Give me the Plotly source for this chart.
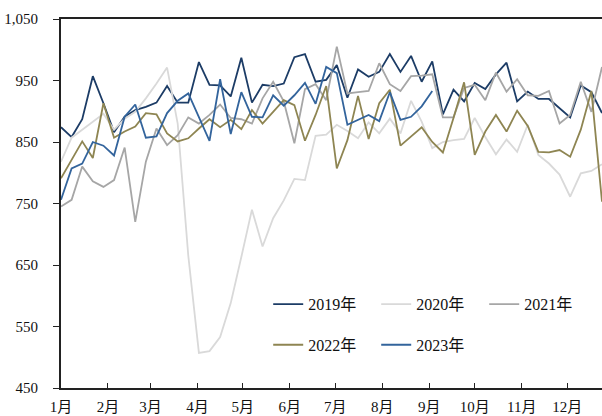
import pandas as pd
import plotly.graph_objects as go

# Weekly data (52 weeks), x positions shown on a common calendar year
week_dates = pd.date_range("2019-01-01", periods=52, freq="7D")

series_names = ["2019年", "2020年", "2021年", "2022年", "2023年"]

v2019 = [874, 858, 887, 957, 913, 866, 891, 902, 907, 914, 941, 914, 914, 980, 943, 942, 924, 987, 914, 943,
         941, 945, 988, 993, 948, 951, 975, 922, 968, 956, 964, 993, 964, 990, 948, 981, 895, 935, 916, 946,
         936, 960, 979, 916, 932, 920, 920, 905, 890, 942, 931, 897]
v2020 = [818, 857, 870, 883, 896, 870, 888, 899, 921, 945, 971, 880, 665, 507, 510, 533, 588, 663, 740, 680,
         726, 755, 790, 788, 860, 862, 878, 868, 856, 882, 864, 888, 864, 917, 883, 840, 850, 853, 855, 889,
         858, 830, 854, 834, 878, 829, 815, 797, 761, 799, 803, 814]
v2021 = [745, 756, 810, 786, 777, 788, 841, 720, 818, 872, 845, 861, 890, 880, 894, 911, 889, 887, 880, 921,
         948, 916, 848, 936, 944, 918, 1005, 929, 931, 933, 978, 944, 933, 957, 958, 960, 890, 890, 938, 943,
         918, 963, 932, 952, 926, 925, 933, 880, 894, 948, 899, 972]
v2022 = [791, 821, 851, 824, 913, 857, 867, 875, 897, 895, 864, 851, 856, 872, 887, 874, 886, 871, 902, 880,
         899, 918, 910, 852, 894, 941, 807, 853, 925, 855, 913, 935, 844, 859, 874, 850, 833, 889, 947, 829,
         867, 894, 867, 901, 876, 834, 833, 837, 826, 870, 933, 753]
v2023 = [756, 807, 815, 850, 844, 828, 891, 911, 857, 859, 897, 917, 929, 890, 852, 952, 863, 931, 891, 890,
         926, 909, 926, 946, 912, 972, 962, 878, 886, 894, 884, 931, 886, 891, 908, 933]

month_ticks = pd.date_range("2019-01-01", periods=12, freq="MS")
month_labels = ["1月", "2月", "3月", "4月", "5月", "6月", "7月", "8月", "9月", "10月", "11月", "12月"]
y_ticks = [450, 550, 650, 750, 850, 950, 1050]

colors = ["#1c3c66", "#d9d9d9", "#a6a6a6", "#8e8552", "#33649c"]
legend_ids = ["legend", "legend", "legend", "legend2", "legend2"]
all_values = [v2019, v2020, v2021, v2022, v2023]

FONT = "'Times New Roman', 'Liberation Serif', 'Noto Sans CJK SC', serif"

fig = go.Figure()
for name, vals, col, lg in zip(series_names, all_values, colors, legend_ids):
    fig.add_trace(go.Scatter(
        x=week_dates[:len(vals)], y=vals, mode="lines", name=name,
        line=dict(color=col, width=1.8), legend=lg,
    ))

fig.update_layout(
    width=602, height=416,
    margin=dict(l=61, r=0, t=19, b=28),
    paper_bgcolor="white", plot_bgcolor="white",
    font=dict(family=FONT, size=15, color="#111111"),
    showlegend=True,
    legend=dict(orientation="h", x=0.383, y=0.227, xanchor="left", yanchor="middle",
                entrywidth=63, entrywidthmode="pixels", bgcolor="rgba(0,0,0,0)",
                font=dict(family=FONT, size=16, color="#111111")),
    legend2=dict(orientation="h", x=0.383, y=0.117, xanchor="left", yanchor="middle",
                 entrywidth=63, entrywidthmode="pixels", bgcolor="rgba(0,0,0,0)",
                 font=dict(family=FONT, size=16, color="#111111")),
)

fig.update_xaxes(
    range=[week_dates[0], week_dates[-1]],
    tickvals=month_ticks, ticktext=month_labels,
    ticks="inside", ticklen=5, tickcolor="#222222",
    showline=True, linecolor="#222222", linewidth=2, mirror=True,
    showgrid=False, zeroline=False, ticklabelstandoff=4,
)
fig.update_yaxes(
    range=[450, 1050], tickvals=y_ticks, tickformat=",d",
    ticks="outside", ticklen=6, tickcolor="#222222",
    showline=True, linecolor="#222222", linewidth=2,
    showgrid=False, zeroline=False, ticklabelstandoff=12,
)

fig.write_html(
    "out.html",
    config={"displayModeBar": False},
    post_script="document.body.style.margin='0';document.body.style.overflow='hidden';",
)
